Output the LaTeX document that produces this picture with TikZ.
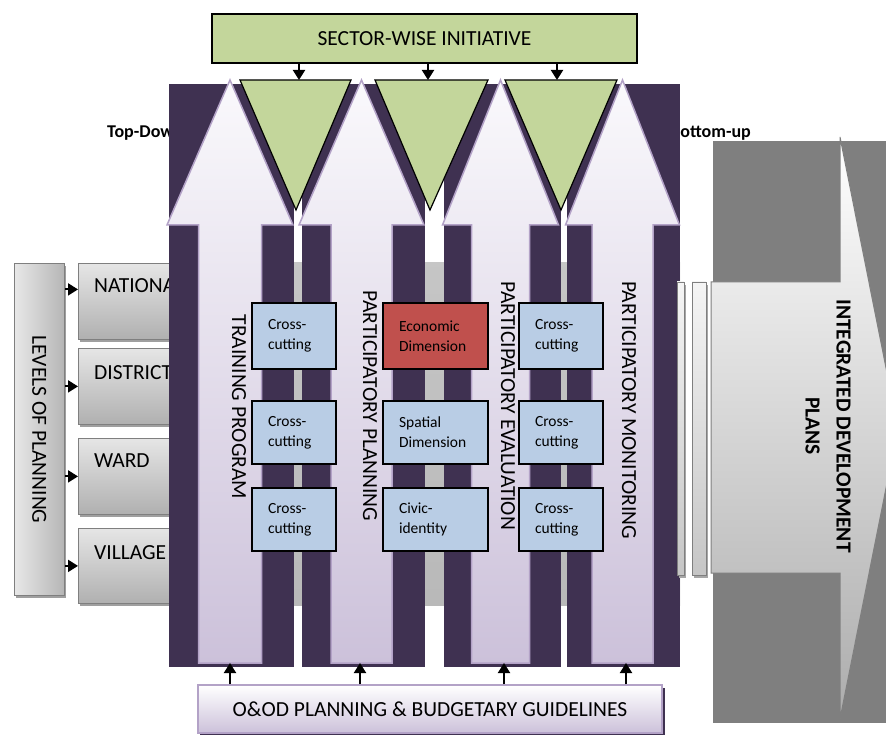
\documentclass[tikz,border=0pt]{standalone}
\usepackage{fontspec}
\setmainfont{Carlito}
\usetikzlibrary{arrows.meta,shadows}

\definecolor{plum}{HTML}{3F3151}
\definecolor{lilacline}{HTML}{B3A2C7}
\definecolor{lilac}{HTML}{CCC1DA}
\definecolor{lilacpale}{HTML}{FAF9FC}
\definecolor{sage}{HTML}{C3D69B}
\definecolor{skyblue}{HTML}{B9CDE5}
\definecolor{brick}{HTML}{C0504D}
\definecolor{slate}{HTML}{7F7F7F}

\tikzset{
  big/.style={font=\fontsize{21.5}{26}\selectfont},
  small/.style={font=\fontsize{15.5}{20}\selectfont},
  tag/.style={font=\bfseries\fontsize{18}{21}\selectfont, inner sep=0pt},
  panel/.style={fill=plum},
  upshape/.style={draw=lilacline, line width=1.5pt, top color=lilacpale, bottom color=lilac},
  wedge/.style={draw=black, line width=1.2pt, fill=sage},
  cell/.style={draw=black, line width=1.3pt, fill=skyblue, small, align=left,
    inner xsep=16pt, inner ysep=0pt, text width=#1},
  levelbox/.style={draw=slate, line width=0.8pt, top color=gray!20, bottom color=gray!62,
    minimum width=110pt, anchor=north west, inner sep=0pt,
    drop shadow={shadow xshift=2pt, shadow yshift=-3pt, fill=gray!75, opacity=1}},
  bar/.style={draw=slate, line width=0.8pt, top color=gray!8, bottom color=gray!45},
  tipdown/.style={line width=2pt, -{Triangle[length=10pt,width=12pt]}},
  tipright/.style={line width=2pt, -{Triangle[length=10pt,width=12pt]}},
}

\begin{document}
\begin{tikzpicture}[x=1pt,y=-1pt]
\useasboundingbox (0,0) rectangle (886,735);
\clip (0,0) rectangle (886,735);

% direction tags, partly covered by the panels
\node[tag, anchor=west] (topdown) at (107,133) {Top-Down};
\node[tag, anchor=east] (bottomup) at (751,133) {Bottom-up};

% planning levels
\node[levelbox, minimum height=76pt] (nat)  at (78,263) {};
\node[levelbox, minimum height=76pt] (dist) at (78,348) {};
\node[levelbox, minimum height=76pt] (ward) at (78,438) {};
\node[levelbox, minimum height=75pt] (vill) at (78,528) {};
\node[big, anchor=west, inner sep=0pt] (nat-t)  at (94,286) {NATIONAL};
\node[big, anchor=west, inner sep=0pt] (dist-t) at (94,373) {DISTRICT};
\node[big, anchor=west, inner sep=0pt] (ward-t) at (94,461) {WARD};
\node[big, anchor=west, inner sep=0pt] (vill-t) at (94,553) {VILLAGE};

% grey band behind the columns
\shade[top color=gray!45, middle color=gray!18, bottom color=gray!55] (169,263) rectangle (680,605);

% integrated plans arrow
\fill[slate] (713,141) rectangle (900,723);
\path[draw=slate, line width=1pt, top color=white, bottom color=gray!65]
  (711,282) -- (840,282) -- (840,137) -- (898,428) -- (840,719) -- (840,573) -- (711,573) -- cycle;
\node[rotate=-90, align=center, font=\bfseries\fontsize{21.5}{31}\selectfont] (idp) at (828,426)
  {INTEGRATED DEVELOPMENT\\PLANS};

% dark panels
\fill[panel] (169,84) rectangle (294,667);
\fill[panel] (302,84) rectangle (425,667);
\fill[panel] (444,84) rectangle (561,667);
\fill[panel] (567,84) rectangle (680,667);

% thin plates in front of the big arrow
\fill[gray!70] (679,285) rectangle (686,578);
\fill[gray!70] (694,285) rectangle (708,578);
\path[bar] (677,282) rectangle (684,575);
\path[bar] (692,282) rectangle (706,575);

% upward arrows
\foreach \c/\h/\s in {230/63/31.5, 361.5/62.5/30.5, 500.5/58/29, 622.5/57/30.5}
  \path[upshape] (\c,80) -- ({\c+\h},225) -- ({\c+\s},225) -- ({\c+\s},663)
    -- ({\c-\s},663) -- ({\c-\s},225) -- ({\c-\h},225) -- cycle;

% inverted wedges
\foreach \l/\r/\m in {240/351/296, 375/488/430, 505/617/561}
  \path[wedge] (\l,80) -- (\r,80) -- (\m,210) -- cycle;

% sector box and its connectors
\node[draw=black, line width=1.3pt, fill=sage, minimum width=425pt, minimum height=49pt, big]
  (sector) at (424.5,38.5) {SECTOR-WISE INITIATIVE};
\coordinate (t1) at (299,80);
\coordinate (t2) at (428,80);
\coordinate (t3) at (557,80);
\draw[tipdown] (sector.south -| t1) -- (t1);
\draw[tipdown] (sector.south -| t2) -- (t2);
\draw[tipdown] (sector.south -| t3) -- (t3);

% cells
\node[cell=52pt, minimum height=66pt] (c11) at (294,336) {Cross-\\cutting};
\node[cell=52pt, minimum height=63pt] (c12) at (294,432.5) {Cross-\\cutting};
\node[cell=52pt, minimum height=63pt] (c13) at (294,519.5) {Cross-\\cutting};
\node[cell=73pt, minimum height=66pt, fill=brick] (c21) at (435.5,336) {Economic\\Dimension};
\node[cell=73pt, minimum height=63pt] (c22) at (435.5,432.5) {Spatial\\Dimension};
\node[cell=73pt, minimum height=63pt] (c23) at (435.5,519.5) {Civic-\\identity};
\node[cell=52pt, minimum height=66pt] (c31) at (561,336) {Cross-\\cutting};
\node[cell=52pt, minimum height=63pt] (c32) at (561,432.5) {Cross-\\cutting};
\node[cell=52pt, minimum height=63pt] (c33) at (561,519.5) {Cross-\\cutting};

% column titles
\node[big, rotate=-90] (train) at (239,407) {TRAINING PROGRAM};
\node[big, rotate=-90] (plan)  at (370,406) {PARTICIPATORY PLANNING};
\node[big, rotate=-90] (eval)  at (508,406) {PARTICIPATORY EVALUATION};
\node[big, rotate=-90] (mon)   at (629,410) {PARTICIPATORY MONITORING};

% levels of planning
\node[draw=slate, line width=0.8pt, left color=gray!18, right color=gray!58,
  minimum width=50pt, minimum height=332pt, anchor=north west, inner sep=0pt,
  drop shadow={shadow xshift=2pt, shadow yshift=-3pt, fill=gray!75, opacity=1}] (lvl) at (14,263) {};
\node[big, rotate=-90] (lvl-t) at (lvl.center) {LEVELS OF PLANNING};
\coordinate (natin)  at ([yshift=12pt]nat.west);
\coordinate (distin) at (dist.west);
\coordinate (wardin) at (ward.west);
\coordinate (villin) at (vill.west);
\draw[tipright] (lvl.east |- natin) -- (natin);
\draw[tipright] (lvl.east |- distin) -- (distin);
\draw[tipright] (lvl.east |- wardin) -- (wardin);
\draw[tipright] (lvl.east |- villin) -- (villin);

% guidelines box and its connectors
\fill[plum] (200,688) rectangle (665,740);
\node[draw=lilacline, line width=1.2pt, top color=white, bottom color=lilac,
  minimum width=464pt, minimum height=48pt, big] (guide) at (430,709)
  {O\&OD PLANNING \& BUDGETARY GUIDELINES};
\coordinate (a1) at (230,663);
\coordinate (a2) at (360,663);
\coordinate (a3) at (504,663);
\coordinate (a4) at (626,663);
\draw[tipdown] (guide.north -| a1) -- (a1);
\draw[tipdown] (guide.north -| a2) -- (a2);
\draw[tipdown] (guide.north -| a3) -- (a3);
\draw[tipdown] (guide.north -| a4) -- (a4);
\end{tikzpicture}
\end{document}
